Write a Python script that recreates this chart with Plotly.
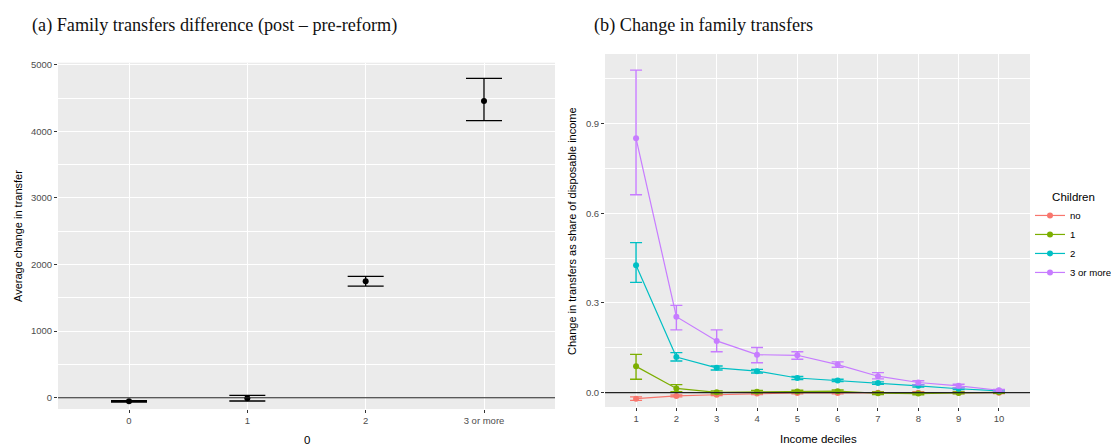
import plotly.graph_objects as go

# ---- Panel (a) data ----
children_cats = ["0", "1", "2", "3 or more"]
avg_change = [-55, -10, 1750, 4455]
avg_change_lo = [-65, -50, 1675, 4160]
avg_change_hi = [-45, 35, 1820, 4795]

# ---- Panel (b) data ----
deciles = [1, 2, 3, 4, 5, 6, 7, 8, 9, 10]
group_names = ["no", "1", "2", "3 or more"]
group_colors = ["#F8766D", "#7CAE00", "#00BFC4", "#C77CFF"]

no_mean = [-0.020, -0.011, -0.007, -0.003, -0.001, -0.001, 0.000, 0.000, 0.000, 0.000]
no_lo = [-0.026, -0.014, -0.010, -0.006, -0.004, -0.004, -0.003, -0.003, -0.003, -0.003]
no_hi = [-0.014, -0.008, -0.004, 0.000, 0.002, 0.002, 0.003, 0.003, 0.003, 0.003]

one_mean = [0.088, 0.014, 0.001, 0.003, 0.004, 0.005, -0.002, -0.003, -0.001, 0.001]
one_lo = [0.045, 0.003, -0.004, -0.001, 0.000, 0.001, -0.006, -0.007, -0.004, -0.002]
one_hi = [0.128, 0.027, 0.006, 0.007, 0.008, 0.009, 0.002, 0.001, 0.002, 0.004]

two_mean = [0.426, 0.119, 0.083, 0.072, 0.049, 0.041, 0.032, 0.023, 0.013, 0.006]
two_lo = [0.369, 0.106, 0.076, 0.066, 0.044, 0.037, 0.028, 0.019, 0.010, 0.003]
two_hi = [0.502, 0.134, 0.089, 0.078, 0.054, 0.045, 0.036, 0.027, 0.016, 0.009]

three_mean = [0.851, 0.254, 0.173, 0.127, 0.125, 0.094, 0.055, 0.034, 0.023, 0.008]
three_lo = [0.662, 0.210, 0.137, 0.100, 0.112, 0.085, 0.046, 0.026, 0.016, 0.005]
three_hi = [1.079, 0.292, 0.210, 0.151, 0.137, 0.103, 0.067, 0.040, 0.028, 0.011]

W, H = 1111, 445
def px_x(p):
    return p / W
def px_y(p):
    return 1 - p / H

SANS = "Liberation Sans, Arial, sans-serif"
SERIF = "Liberation Serif, Times New Roman, serif"

fig = go.Figure()

# Panel (a)
fig.add_trace(go.Scatter(
    x=children_cats, y=avg_change, mode="markers",
    marker=dict(color="black", size=6),
    error_y=dict(type="data", symmetric=False,
                 array=[h - m for h, m in zip(avg_change_hi, avg_change)],
                 arrayminus=[m - l for m, l in zip(avg_change, avg_change_lo)],
                 color="black", thickness=1.3, width=18),
    xaxis="x", yaxis="y", showlegend=False))

# Panel (b)
series = [(no_mean, no_lo, no_hi), (one_mean, one_lo, one_hi),
          (two_mean, two_lo, two_hi), (three_mean, three_lo, three_hi)]
for name, col, (m, lo, hi) in zip(group_names, group_colors, series):
    fig.add_trace(go.Scatter(
        x=deciles, y=m, mode="lines+markers", name=name,
        line=dict(color=col, width=1.2),
        marker=dict(color=col, size=6),
        error_y=dict(type="data", symmetric=False,
                     array=[h - v for h, v in zip(hi, m)],
                     arrayminus=[v - l for v, l in zip(m, lo)],
                     color=col, thickness=1.4, width=6),
        xaxis="x2", yaxis="y2"))

axis_common = dict(showline=False, zeroline=False, ticks="outside", ticklen=3, automargin=False,
                   tickcolor="#333333", tickfont=dict(family=SANS, size=9.5, color="#4D4D4D"),
                   gridcolor="white", gridwidth=1.1)

fig.update_layout(
    width=W, height=H, margin=dict(l=0, r=0, t=0, b=0, autoexpand=False),
    paper_bgcolor="white", plot_bgcolor="#EBEBEB",
    xaxis=dict(domain=[px_x(58), px_x(555)], anchor="y", type="category",
               categoryorder="array", categoryarray=children_cats,
               range=[-0.6, 3.6], **axis_common),
    yaxis=dict(domain=[px_y(409), px_y(62.7)], anchor="x", range=[-170, 5030],
               tickvals=[0, 1000, 2000, 3000, 4000, 5000],
               minor=dict(showgrid=True, gridcolor="white", gridwidth=0.5,
                          tickvals=[500, 1500, 2500, 3500, 4500], ticks=""),
               **axis_common),
    xaxis2=dict(domain=[px_x(605), px_x(1030)], anchor="y2", range=[0.23, 10.77],
                tickvals=deciles, **axis_common),
    yaxis2=dict(domain=[px_y(407), px_y(54)], anchor="x2", range=[-0.048, 1.133],
                tickvals=[0.0, 0.3, 0.6, 0.9], ticktext=["0.0", "0.3", "0.6", "0.9"],
                minor=dict(showgrid=True, gridcolor="white", gridwidth=0.5,
                           tickvals=[0.15, 0.45, 0.75, 1.05], ticks=""),
                **axis_common),
    legend=dict(xref="container", yref="container",
                x=px_x(1030), y=px_y(186), xanchor="left", yanchor="top",
                title=dict(text="Children", side="top center",
                           font=dict(family=SANS, size=11.5, color="black")),
                font=dict(family=SANS, size=9.6, color="black"),
                bgcolor="rgba(0,0,0,0)", itemwidth=30, tracegroupgap=0),
    shapes=[
        dict(type="line", xref="x domain", yref="y", x0=0, x1=1, y0=0, y1=0,
             line=dict(color="#222222", width=1.1), layer="above"),
        dict(type="line", xref="x2 domain", yref="y2", x0=0, x1=1, y0=0, y1=0,
             line=dict(color="#222222", width=1.1), layer="above"),
    ],
    annotations=[
        dict(text="(a) Family transfers difference (post – pre-reform)", xref="paper", yref="paper",
             x=px_x(30), y=px_y(25), xanchor="left", yanchor="middle", showarrow=False,
             font=dict(family=SERIF, size=18.2, color="#111111")),
        dict(text="(b) Change in family transfers", xref="paper", yref="paper",
             x=px_x(592), y=px_y(25), xanchor="left", yanchor="middle", showarrow=False,
             font=dict(family=SERIF, size=18.2, color="#111111")),
        dict(text="Average change in transfer", xref="paper", yref="paper",
             x=px_x(18), y=px_y(236), xanchor="center", yanchor="middle", showarrow=False,
             textangle=-90, font=dict(family=SANS, size=11, color="black")),
        dict(text="0", xref="paper", yref="paper",
             x=px_x(307), y=px_y(440), xanchor="center", yanchor="middle", showarrow=False,
             font=dict(family=SANS, size=11.5, color="black")),
        dict(text="Change in transfers as share of disposable income", xref="paper", yref="paper",
             x=px_x(572), y=px_y(231), xanchor="center", yanchor="middle", showarrow=False,
             textangle=-90, font=dict(family=SANS, size=11, color="black")),
        dict(text="Income deciles", xref="paper", yref="paper",
             x=px_x(818), y=px_y(439), xanchor="center", yanchor="middle", showarrow=False,
             font=dict(family=SANS, size=11.5, color="black")),
    ],
)

fig.write_html("out.html", config={"displayModeBar": False},
               post_script="document.body.style.margin='0px';document.body.style.overflow='hidden';")
